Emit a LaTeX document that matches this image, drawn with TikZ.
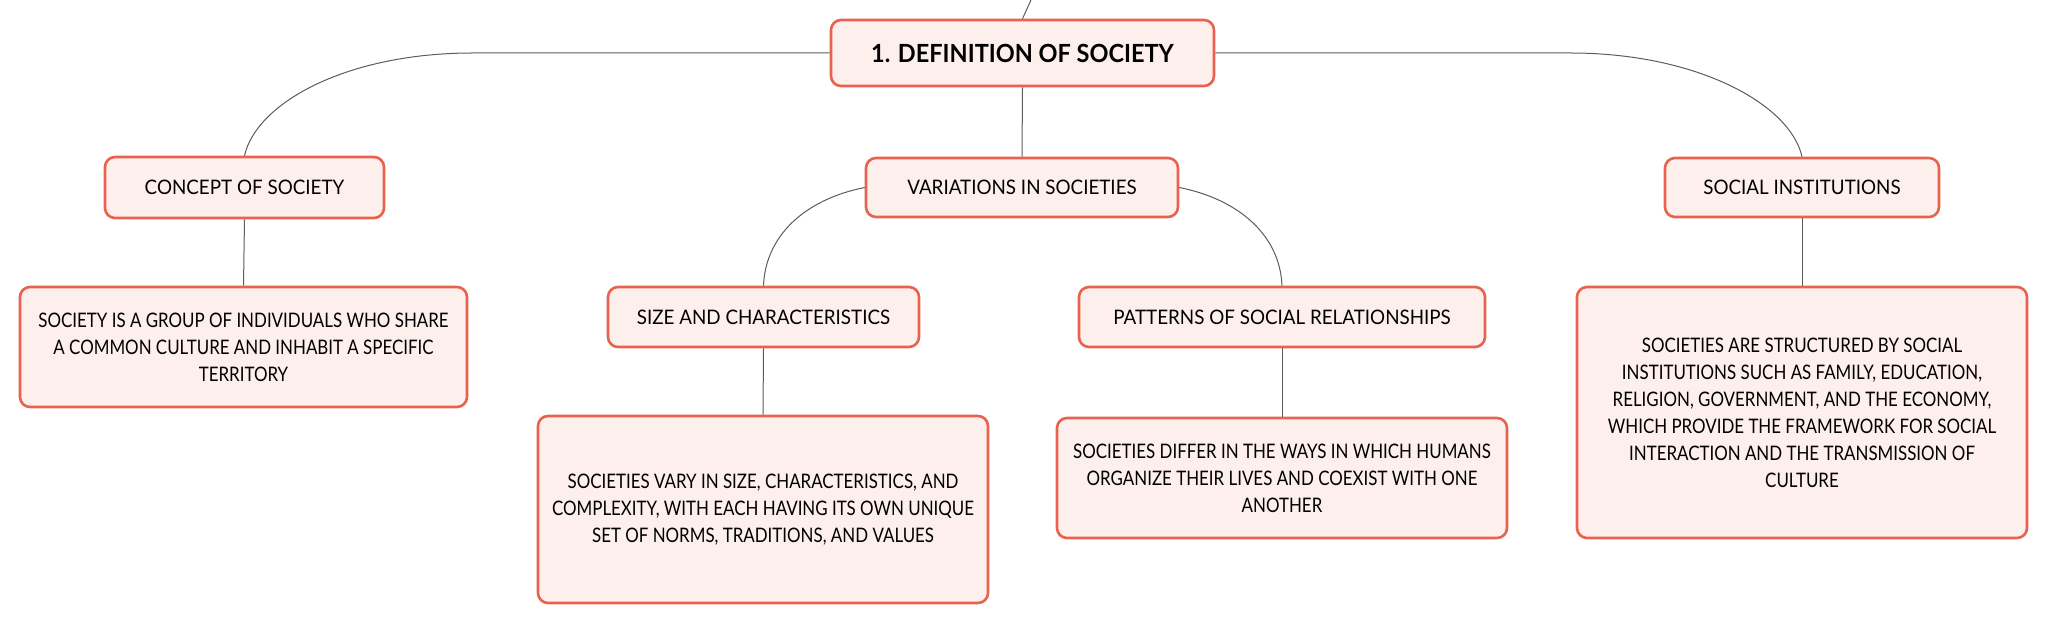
\documentclass[tikz,border=0pt]{standalone}
\usepackage{fontspec}
\setmainfont{Lato}[FakeStretch=0.94]
\newfontfamily\notefont{Lato}[FakeStretch=0.845]
\usepackage{tikz}

\definecolor{boxline}{HTML}{E8624E}
\definecolor{boxfill}{HTML}{FDF0EC}
\definecolor{linkgray}{HTML}{5C5C5C}

\begin{document}
\begin{tikzpicture}[x=0.5pt,y=-0.5pt,line join=round,
                    main node/.style={rectangle,rounded corners=5pt,draw=boxline,fill=boxfill,
                      line width=1.3pt,inner sep=0pt,align=center,
                      font=\fontsize{10}{13.5}\selectfont},
                    note node/.style={main node,
                      font=\notefont\fontsize{10}{13.5}\selectfont},
                    link/.style={draw=linkgray,line width=0.5pt},
                    every edge/.style={link}]

  \useasboundingbox (0,0) rectangle (2046,624);

  \node[main node,minimum width=191.5pt,minimum height=33pt,
        font=\bfseries\fontsize{12.5}{14}\selectfont] (1) at (1022.5,53) {1. DEFINITION OF SOCIETY};
  \node[main node,minimum width=139.5pt,minimum height=30.5pt] (2) at (244.5,187.5) {CONCEPT OF SOCIETY};
  \node[main node,minimum width=156pt,minimum height=29.5pt] (3) at (1022,187.5) {VARIATIONS IN SOCIETIES};
  \node[main node,minimum width=137pt,minimum height=29.5pt] (4) at (1802,187.5) {SOCIAL INSTITUTIONS};

  \node[note node,minimum width=223.5pt,minimum height=60pt] (5) at (243.5,347)
    {SOCIETY IS A GROUP OF INDIVIDUALS WHO SHARE\\ A COMMON CULTURE AND INHABIT A SPECIFIC\\ TERRITORY};
  \node[main node,minimum width=155.5pt,minimum height=30pt] (6) at (763.5,317) {SIZE AND CHARACTERISTICS};
  \node[main node,minimum width=203pt,minimum height=30pt] (7) at (1282,317) {PATTERNS OF SOCIAL RELATIONSHIPS};
  \node[note node,minimum width=225pt,minimum height=93.5pt] (8) at (763,509.5)
    {SOCIETIES VARY IN SIZE, CHARACTERISTICS, AND\\ COMPLEXITY, WITH EACH HAVING ITS OWN UNIQUE\\ SET OF NORMS, TRADITIONS, AND VALUES};
  \node[note node,minimum width=225pt,minimum height=60pt] (9) at (1282,478)
    {SOCIETIES DIFFER IN THE WAYS IN WHICH HUMANS\\ ORGANIZE THEIR LIVES AND COEXIST WITH ONE\\ ANOTHER};
  \node[note node,minimum width=225pt,minimum height=125.5pt] (10) at (1802,412.5)
    {SOCIETIES ARE STRUCTURED BY SOCIAL\\ INSTITUTIONS SUCH AS FAMILY, EDUCATION,\\ RELIGION, GOVERNMENT, AND THE ECONOMY,\\
     WHICH PROVIDE THE FRAMEWORK FOR SOCIAL\\ INTERACTION AND THE TRANSMISSION OF\\ CULTURE};

  \coordinate (0) at (1031,0);

  % straight links
  \path (0) edge (1.north)
        (1.south) edge (3.north)
        (2.south) edge (5.north)
        (6.south) edge (8.north)
        (7.south) edge (9.north)
        (4.south) edge (10.north);

  % curved branches
  \draw[link] (1.west) -- ++(-357,0) .. controls +(-126,0) and +(12,-53) .. (2.north);
  \draw[link] (1.east) -- ++(355,0) .. controls +(126,0) and +(-12,-53) .. (4.north);
  \draw[link] (3.west) .. controls +(-60,12) and +(2,-50) .. (6.north);
  \draw[link] (3.east) .. controls +(60,12) and +(-2,-50) .. (7.north);
\end{tikzpicture}
\end{document}
